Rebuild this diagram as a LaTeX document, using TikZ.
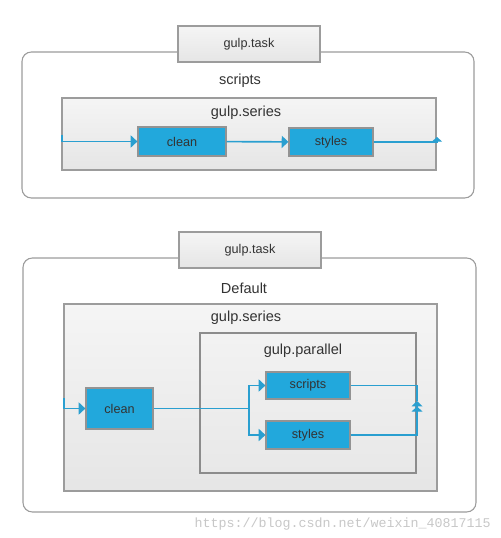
\documentclass[tikz,border=0pt]{standalone}
\usepackage{fontspec}
\setmainfont{Liberation Sans}
\newfontfamily\markfont{Liberation Mono}
\usetikzlibrary{arrows.meta}
\definecolor{taskblue}{HTML}{22A8DC}
\definecolor{flowblue}{HTML}{2A9FD0}
\definecolor{framegray}{HTML}{9C9C9C}
\definecolor{textgray}{HTML}{333333}
\begin{document}
\begin{tikzpicture}[x=0.75pt, y=-0.75pt,
    frame/.style={draw=framegray, line width=0.8pt, rounded corners=7pt, fill=white, inner sep=0pt},
    group/.style={draw=framegray, line width=0.9pt, top color=black!4, bottom color=black!10, inner sep=0pt},
    taskbox/.style={draw=gray!85, line width=0.9pt, fill=taskblue, inner sep=0pt, text=textgray, font=\fontsize{9.5}{11}\selectfont},
    title/.style={text=textgray, font=\fontsize{10.9}{13}\selectfont, inner sep=0pt},
    small/.style={text=textgray, font=\fontsize{9.5}{11}\selectfont, inner sep=0pt},
    flow/.style={draw=flowblue, line width=1.2pt},
    arr/.style={-{Triangle[width=9pt,length=5pt]}},
    uparr/.style={-{Triangle[width=7.5pt,length=3.5pt]}},
    joinarr/.style={-{Triangle[width=8pt,length=4pt]Triangle[width=8pt,length=4pt]}}]
    \useasboundingbox (0,0) rectangle (500,538);

    \node[frame, minimum width=339pt, minimum height=109.5pt] (f1) at (248, 125) {};
    \node[group, minimum width=106.5pt, minimum height=27pt] (t1) at (249, 44) {};
    \node[small] (t1l) at (249, 44) {gulp.task};
    \node[title] (n1) at (240, 81) {scripts};
    \node[group, minimum width=280.5pt, minimum height=54pt] (s1) at (249, 134) {};
    \node[title] (s1l) at (246, 113) {gulp.series};
    \node[taskbox, minimum width=66pt, minimum height=21.75pt] (c1) at (182, 141.5) {clean};
    \node[taskbox, minimum width=63pt, minimum height=21pt] (y1) at (331, 142) {styles};

    \coordinate (in1) at (62, 135);
    \coordinate (out1) at (437, 142);
    \draw[flow, arr] (in1) |- (c1.west);
    \draw[flow, arr] (c1) -- (y1);
    \draw[flow, uparr] (y1.east) -- (out1) -- ++(0,-5);

    \node[frame, minimum width=339.75pt, minimum height=190.5pt] (f2) at (249.5, 385) {};
    \node[group, minimum width=106.5pt, minimum height=27pt] (t2) at (250, 250) {};
    \node[small] (t2l) at (250, 250) {gulp.task};
    \node[title] (n2) at (244, 288) {Default};
    \node[group, minimum width=279.75pt, minimum height=140.25pt] (s2) at (250.5, 397.5) {};
    \node[title] (s2l) at (246, 318) {gulp.series};
    \node[group, draw=gray!90, top color=black!5, bottom color=black!9, minimum width=162pt, minimum height=105pt] (p2) at (308, 403) {};
    \node[title] (p2l) at (303, 351) {gulp.parallel};
    \node[taskbox, minimum width=50.25pt, minimum height=30.75pt] (c2) at (119.5, 408.5) {clean};
    \node[taskbox, minimum width=63pt, minimum height=20.25pt] (r2) at (308, 385.5) {scripts};
    \node[taskbox, minimum width=63pt, minimum height=21pt] (y2) at (308, 435) {styles};

    \coordinate (in2) at (64, 398);
    \coordinate (split) at (249, 408.5);
    \coordinate (join) at (417, 401);
    \draw[flow, arr] (in2) |- (c2.west);
    \draw[flow] (c2.east) -- (split);
    \draw[flow, arr] (split) |- (r2.west);
    \draw[flow, arr] (split) |- (y2.west);
    \draw[flow] (r2.east) -| (join);
    \draw[flow, joinarr] (y2.east) -| (join);

    \node[text=black!22, font=\markfont\fontsize{10}{12}\selectfont, anchor=east, inner sep=0pt] (mark) at (491, 524) {https://blog.csdn.net/weixin\_40817115};
  \end{tikzpicture}
\end{document}
